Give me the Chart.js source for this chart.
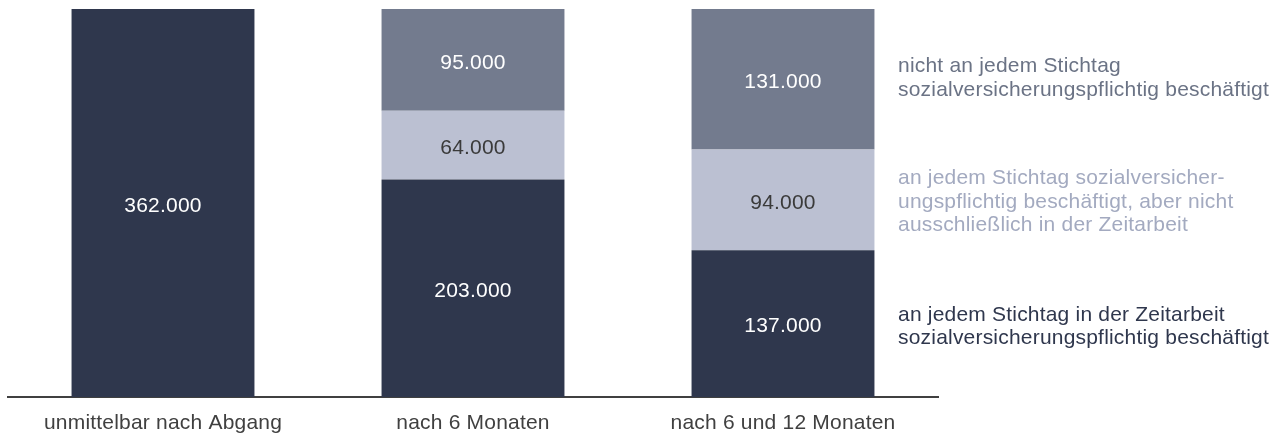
<!DOCTYPE html>
<html>
<head>
<meta charset="utf-8">
<script src="https://cdn.jsdelivr.net/npm/chart.js@4"></script>
<style>
  html, body { margin: 0; padding: 0; background: #fff; }
  #wrap { width: 1284px; height: 436px; }
</style>
</head>
<body>
<div id="wrap"><canvas id="chart" width="1284" height="436"></canvas></div>
<script>
const categories = ["unmittelbar nach Abgang", "nach 6 Monaten", "nach 6 und 12 Monaten"];
const inZeitarbeit = [362000, 203000, 137000];
const nichtAusschliesslich = [0, 64000, 94000];
const nichtJederStichtag = [0, 95000, 131000];
const seriesNames = [
  ["an jedem Stichtag in der Zeitarbeit", "sozialversicherungspflichtig beschäftigt"],
  ["an jedem Stichtag sozialversicher-", "ungspflichtig beschäftigt, aber nicht", "ausschließlich in der Zeitarbeit"],
  ["nicht an jedem Stichtag", "sozialversicherungspflichtig beschäftigt"],
];

const FONT = "'Liberation Sans', Arial, sans-serif";
const SPACING = 0.2;
const fill = ["#2f374d", "#bbc0d2", "#737b8e"];
const valueColor = ["#ffffff", "#3a3a3a", "#ffffff"];
const legendColor = ["#2f374d", "#a3aac0", "#6b7385"];

function fmt(v) {
  return String(v).replace(/\B(?=(\d{3})+(?!\d))/g, ".");
}

const labelsPlugin = {
  id: "labels",
  afterDatasetsDraw(chart) {
    const ctx = chart.ctx;
    ctx.save();
    ctx.font = "21px " + FONT;
    ctx.letterSpacing = SPACING + "px";
    ctx.textAlign = "center";
    ctx.textBaseline = "middle";
    chart.data.datasets.forEach((ds, i) => {
      const meta = chart.getDatasetMeta(i);
      meta.data.forEach((bar, j) => {
        if (!ds.data[j]) return;
        ctx.fillStyle = valueColor[i];
        ctx.fillText(fmt(ds.data[j]), bar.x, (bar.y + bar.base) / 2 + 3);
      });
    });
    // category labels under the axis
    const xs = chart.scales.x;
    ctx.fillStyle = "#404040";
    categories.forEach((c, j) => {
      ctx.fillText(c, xs.getPixelForValue(j), chart.chartArea.bottom + 26);
    });
    // series names to the right of the last bar
    ctx.textAlign = "left";
    const last = categories.length - 1;
    const shift = [3, 2, -1];
    chart.data.datasets.forEach((ds, i) => {
      const bar = chart.getDatasetMeta(i).data[last];
      const mid = (bar.y + bar.base) / 2;
      const lines = seriesNames[i];
      const lh = 23.5;
      ctx.fillStyle = legendColor[i];
      lines.forEach((t, k) => {
        ctx.fillText(t, 898, mid + (k - (lines.length - 1) / 2) * lh + shift[i]);
      });
    });
    ctx.restore();
  }
};

new Chart(document.getElementById("chart"), {
  type: "bar",
  data: {
    labels: categories,
    datasets: [
      { label: seriesNames[0].join(" "), data: inZeitarbeit, backgroundColor: fill[0] },
      { label: seriesNames[1].join(" "), data: nichtAusschliesslich, backgroundColor: fill[1] },
      { label: seriesNames[2].join(" "), data: nichtJederStichtag, backgroundColor: fill[2] },
    ],
  },
  options: {
    responsive: false,
    animation: false,
    layout: { padding: { left: 8, right: 346, top: 9, bottom: 39 } },
    datasets: { bar: { barPercentage: 0.59, categoryPercentage: 1 } },
    plugins: { legend: { display: false }, tooltip: { enabled: false } },
    scales: {
      x: {
        stacked: true,
        grid: { display: false, drawTicks: false },
        border: { display: true, color: "#404040", width: 2 },
        ticks: { display: false },
      },
      y: {
        stacked: true,
        display: false,
        min: 0,
        max: 362000,
      },
    },
  },
  plugins: [labelsPlugin],
});
</script>
</body>
</html>
